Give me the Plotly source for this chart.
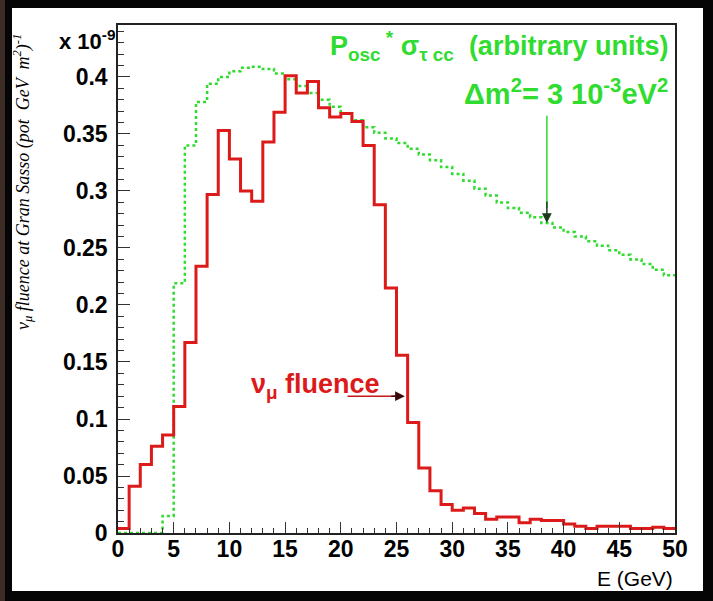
import plotly.graph_objects as go

# Energy binning (GeV), 1 GeV bins from 0 to 50
bin_edges = list(range(0, 51))

# nu_mu fluence at Gran Sasso (x 1e-9 per pot GeV m^2)
numu_fluence = [0.004, 0.041, 0.060, 0.076, 0.086, 0.111, 0.167, 0.234, 0.297, 0.353,
                0.328, 0.300, 0.291, 0.343, 0.369, 0.401, 0.386, 0.396, 0.373, 0.365,
                0.368, 0.361, 0.340, 0.288, 0.215, 0.156, 0.097, 0.057, 0.037, 0.025,
                0.020, 0.022, 0.017, 0.012, 0.014, 0.014, 0.009, 0.012, 0.011, 0.011,
                0.008, 0.006, 0.004, 0.006, 0.006, 0.006, 0.004, 0.004, 0.005, 0.004]

# P_osc * sigma_tau(CC), arbitrary units, dm^2 = 3e-3 eV^2
posc_sigma = [0.000, 0.000, 0.000, 0.000, 0.015, 0.219, 0.340, 0.378, 0.394, 0.400,
              0.405, 0.408, 0.409, 0.407, 0.403, 0.398, 0.392, 0.386, 0.380, 0.374,
              0.368, 0.362, 0.356, 0.351, 0.346, 0.342, 0.337, 0.332, 0.327, 0.321,
              0.315, 0.309, 0.302, 0.296, 0.290, 0.285, 0.281, 0.277, 0.272, 0.268,
              0.264, 0.260, 0.256, 0.252, 0.248, 0.244, 0.240, 0.236, 0.231, 0.226]

y_ticks = [0, 0.05, 0.1, 0.15, 0.2, 0.25, 0.3, 0.35, 0.4]
y_tick_text = ["0", "0.05", "0.1", "0.15", "0.2", "0.25", "0.3", "0.35", "0.4"]
x_ticks = [0, 5, 10, 15, 20, 25, 30, 35, 40, 45, 50]

RED = "#dc1a1a"
GREEN = "#2fdc2f"
FONT = "Liberation Sans"

# Figure geometry (pixels)
W, H = 713, 601
ML, MR, MT, MB = 118, 38, 25, 68
PW, PH = W - ML - MR, H - MT - MB


def px(x):
    return (x - ML) / PW


def py(y):
    return (H - MB - y) / PH


fig = go.Figure()

fig.add_trace(go.Scatter(
    x=bin_edges, y=posc_sigma + [posc_sigma[-1]],
    mode="lines", line=dict(color=GREEN, width=2.5, dash="dot", shape="hv"),
    hoverinfo="skip", showlegend=False, cliponaxis=False,
))
fig.add_trace(go.Scatter(
    x=bin_edges, y=numu_fluence + [numu_fluence[-1]],
    mode="lines", line=dict(color=RED, width=3, shape="hv"),
    hoverinfo="skip", showlegend=False, cliponaxis=False,
))

shapes = [
    # outer dark frame: white page inside, brownish strip on the far left
    dict(type="rect", xref="paper", yref="paper", layer="below",
         x0=px(12), x1=px(703), y0=py(591), y1=py(8),
         fillcolor="white", line=dict(width=0)),
    dict(type="rect", xref="paper", yref="paper", layer="below",
         x0=px(0), x1=px(5), y0=py(H), y1=py(0),
         fillcolor="#3b2d26", line=dict(width=0)),
    # arrow shafts
    dict(type="line", xref="x", yref="y", x0=20.6, x1=25.2, y0=0.120, y1=0.120,
         line=dict(color="#c81818", width=1.5)),
    dict(type="line", xref="x", yref="y", x0=38.5, x1=38.5, y0=0.366, y1=0.285,
         line=dict(color=GREEN, width=1.5)),
]

annotations = [
    dict(x=25.75, y=0.120, ax=24.4, ay=0.120, xref="x", yref="y", axref="x", ayref="y",
         showarrow=True, arrowhead=2, arrowsize=1.3, arrowwidth=1.5, arrowcolor="#3a0a0a",
         text=""),
    dict(x=38.5, y=0.272, ax=38.5, ay=0.292, xref="x", yref="y", axref="x", ayref="y",
         showarrow=True, arrowhead=2, arrowsize=1.3, arrowwidth=1.5, arrowcolor="#1a3a1a",
         text=""),
    dict(x=px(118), y=py(40), xref="paper", yref="paper", xanchor="right", yanchor="middle",
         text="x 10<sup>-9</sup>", showarrow=False,
         font=dict(family=FONT, size=22, color="black", weight="bold")),
    dict(x=px(670), y=py(46), xref="paper", yref="paper", xanchor="right", yanchor="middle",
         text="P<sub>osc</sub><sup> *</sup> σ<sub>τ cc</sub>  (arbitrary units)", showarrow=False,
         font=dict(family=FONT, size=27, color=GREEN, weight="bold")),
    dict(x=px(670), y=py(92), xref="paper", yref="paper", xanchor="right", yanchor="middle",
         text="Δm<sup>2</sup>= 3 10<sup>-3</sup>eV<sup>2</sup>", showarrow=False,
         font=dict(family=FONT, size=29, color=GREEN, weight="bold")),
    dict(x=px(249), y=py(386), xref="paper", yref="paper", xanchor="left", yanchor="middle",
         text="ν<sub>μ</sub> fluence", showarrow=False,
         font=dict(family=FONT, size=27, color=RED, weight="bold")),
    dict(x=px(675), y=py(578), xref="paper", yref="paper", xanchor="right", yanchor="middle",
         text="E (GeV)", showarrow=False,
         font=dict(family=FONT, size=21, color="black")),
    dict(x=px(22), y=py(182), xref="paper", yref="paper", xanchor="center", yanchor="middle",
         textangle=-90, showarrow=False,
         text="<i>ν<sub>μ</sub> fluence at Gran Sasso (pot  GeV  m<sup>2</sup>)<sup>-1</sup></i>",
         font=dict(family="Liberation Serif", size=18, color="black")),
]

fig.update_layout(
    width=W, height=H,
    margin=dict(l=ML, r=MR, t=MT, b=MB, pad=0),
    paper_bgcolor="#050505",
    plot_bgcolor="white",
    shapes=shapes,
    annotations=annotations,
    showlegend=False,
)

fig.update_xaxes(
    range=[0, 50], tickvals=x_ticks, ticktext=[str(v) for v in x_ticks],
    ticks="inside", ticklen=11, tickwidth=1, tickcolor="#333",
    minor=dict(dtick=1, ticks="inside", ticklen=5, tickcolor="#333"),
    showline=True, linecolor="#222", linewidth=1.5, mirror=True,
    showgrid=False, zeroline=False,
    tickfont=dict(family=FONT, size=23, color="black", weight="bold"),
    ticklabelstandoff=-5,
)
fig.update_yaxes(
    range=[0, 0.4456], tickvals=y_ticks, ticktext=y_tick_text,
    ticks="inside", ticklen=12, tickwidth=1, tickcolor="#333",
    minor=dict(dtick=0.01, tick0=0, ticks="inside", ticklen=6, tickcolor="#333"),
    showline=True, linecolor="#222", linewidth=1.5, mirror=True,
    showgrid=False, zeroline=False,
    tickfont=dict(family=FONT, size=23, color="black", weight="bold"),
    ticklabelstandoff=4,
)

fig.write_html("out.html")
